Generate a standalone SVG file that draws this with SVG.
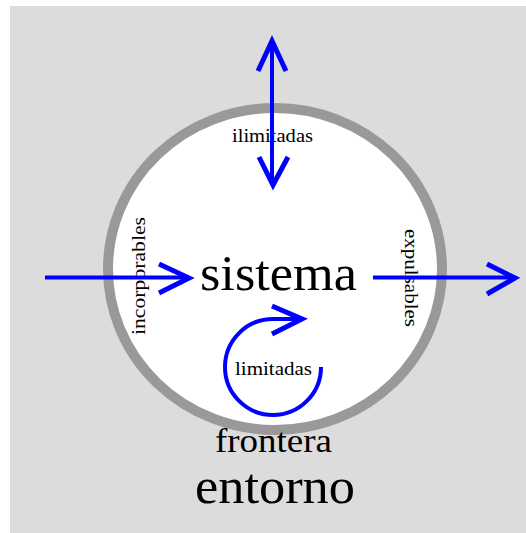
<svg xmlns="http://www.w3.org/2000/svg" width="526" height="533" viewBox="0 0 526 533">
<style>
.t{font-family:"Liberation Serif","Times New Roman",serif;fill:#000}
.s{font-size:18px}
.ln{fill:none;stroke:#0000ff;stroke-width:4}
.hd{fill:none;stroke:#0000ff;stroke-width:5;stroke-linejoin:miter}
</style>
<rect width="526" height="533" fill="#ffffff"/>
<g id="entorno">
<rect x="10" y="6" width="516" height="527" fill="#dcdcdc"/>
<text class="t" x="275" y="503" font-size="50" text-anchor="middle" textLength="160" lengthAdjust="spacingAndGlyphs">entorno</text>
</g>
<g id="frontera">
<ellipse cx="275" cy="269" rx="167" ry="161" fill="#ffffff" stroke="#999999" stroke-width="10"/>
<text class="t" x="273.5" y="452" font-size="33" text-anchor="middle" textLength="117" lengthAdjust="spacingAndGlyphs">frontera</text>
</g>
<g id="sistema">
<text class="t" x="278.5" y="290" font-size="50" text-anchor="middle" textLength="157" lengthAdjust="spacingAndGlyphs">sistema</text>
</g>
<g id="labels">
<text class="t s" x="272.5" y="142" text-anchor="middle" textLength="81" lengthAdjust="spacingAndGlyphs">ilimitadas</text>
<text class="t s" transform="translate(145,276) rotate(-90)" text-anchor="middle" textLength="118" lengthAdjust="spacingAndGlyphs">incorporables</text>
<text class="t s" transform="translate(405,278) rotate(90)" text-anchor="middle" textLength="98" lengthAdjust="spacingAndGlyphs">expulsables</text>
<text class="t s" x="273.5" y="375" text-anchor="middle" textLength="77" lengthAdjust="spacingAndGlyphs">limitadas</text>
</g>
<g id="connectors">
<line class="ln" x1="272" y1="42" x2="272" y2="185"/>
<polyline class="hd" points="258,71 272,41 286,71"/>
<polyline class="hd" points="259,157 273,185 288,157"/>
<line class="ln" x1="45" y1="277.5" x2="189" y2="277.5"/>
<polyline class="hd" points="159,264 189,278 159,293"/>
<line class="ln" x1="373" y1="277.5" x2="515" y2="277.5"/>
<polyline class="hd" points="487,264 515,278 487,294"/>
<path class="ln" d="M303,319 L273,319 A48,48 0 1 0 321,367"/>
<polyline class="hd" points="272,306 302,319 272,334"/>
</g>
</svg>
